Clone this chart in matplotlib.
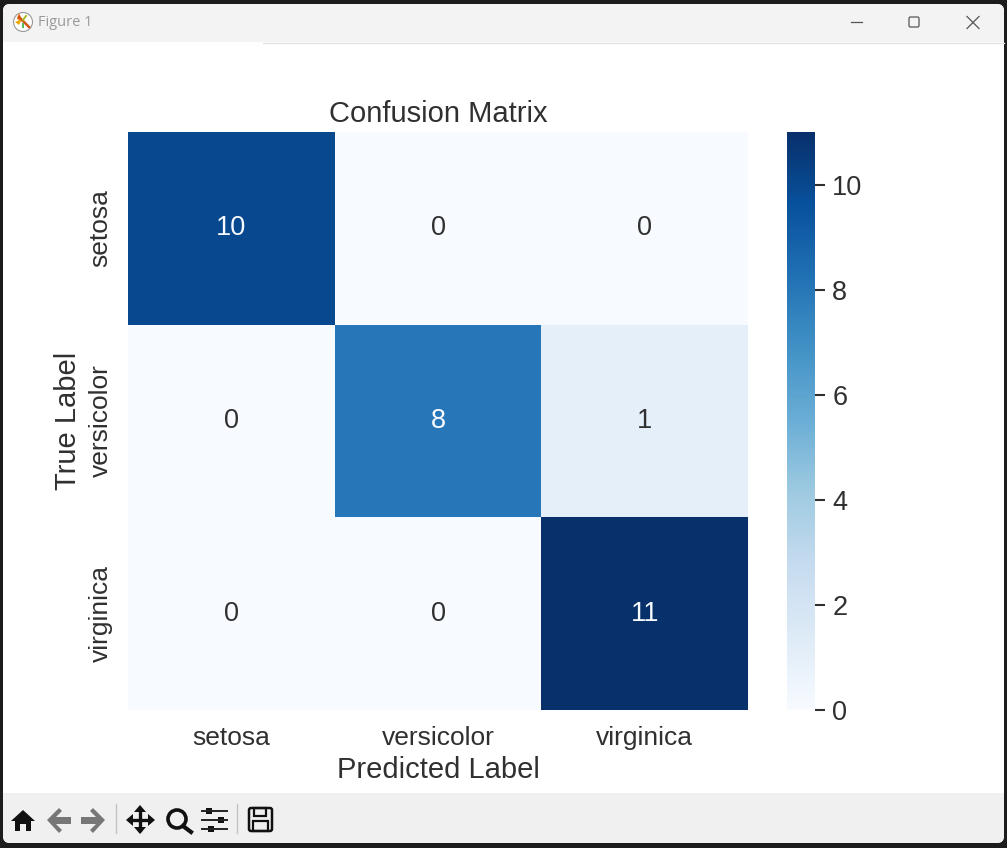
import numpy as np
import matplotlib
matplotlib.use("Agg")
import matplotlib.pyplot as plt
from matplotlib.patches import FancyBboxPatch, Rectangle, Circle, Polygon

plt.rcParams['font.family'] = ['Liberation Sans', 'DejaVu Sans']

classes = ['setosa', 'versicolor', 'virginica']
matrix = np.array([[10, 0, 0],
                   [0, 8, 1],
                   [0, 0, 11]])
cbar_ticks = [0, 2, 4, 6, 8, 10]

W, H = 1007, 848
TEXT = '#303030'
fig = plt.figure(figsize=(W / 100, H / 100), dpi=100, facecolor='#1c1c1c')


def px_axes(x0, y0, x1, y1):
    return fig.add_axes([x0 / W, 1 - y1 / H, (x1 - x0) / W, (y1 - y0) / H])


# window chrome drawn in pixel coordinates
bg = fig.add_axes([0, 0, 1, 1], zorder=0)
bg.set_xlim(0, W)
bg.set_ylim(H, 0)
bg.axis('off')
bg.add_patch(FancyBboxPatch((3, 4), W - 6, 839, boxstyle='round,pad=0,rounding_size=7',
                            fc='white', ec='none'))
bg.add_patch(FancyBboxPatch((3, 4), W - 6, 38, boxstyle='round,pad=0,rounding_size=7',
                            fc='#f3f3f3', ec='none'))
bg.add_patch(Rectangle((3, 30), W - 6, 12, fc='#f3f3f3', ec='none'))
bg.add_patch(FancyBboxPatch((3, 793), W - 6, 50, boxstyle='round,pad=0,rounding_size=7',
                            fc='#f0f0f0', ec='none'))
bg.add_patch(Rectangle((3, 793), W - 6, 20, fc='#f0f0f0', ec='none'))
bg.plot([263, W - 3], [42.5, 42.5], color='#e2e2e2', lw=1)

# title bar
bg.add_patch(Circle((23, 22), 9.5, fc='white', ec='#999999', lw=0.8))
bg.plot([19, 29], [17, 27], color='#d2561a', lw=1.8)
bg.add_patch(Polygon([[19, 13], [23, 22], [17, 19]], fc='#f07010', ec='none'))
bg.add_patch(Polygon([[15, 22], [22, 19], [19, 25]], fc='#eaa800', ec='none'))
bg.plot([23, 26], [20, 16], color='#a8b820', lw=1.4)
bg.plot([23, 23], [24, 27], color='#50c050', lw=1.4)
bg.text(38, 23, 'Figure 1', fontsize=10.5, color='#9a9a9a', va='center', family='Open Sans')
bg.plot([851, 862], [22, 22], color='#555555', lw=0.9)
bg.add_patch(FancyBboxPatch((909, 17), 10, 10, boxstyle='round,pad=0,rounding_size=1.5',
                            fc='none', ec='#555555', lw=0.9))
bg.plot([967, 979], [16.5, 28.5], color='#555555', lw=0.9)
bg.plot([967, 979], [28.5, 16.5], color='#555555', lw=0.9)

# toolbar icons
bg.add_patch(Polygon([[11, 821], [23, 810], [35, 821], [31, 821], [31, 831], [26, 831], [26, 824],
                      [20, 824], [20, 831], [15, 831], [15, 821]], fc='#111111', ec='none'))
bg.add_patch(Polygon([[47, 820], [59, 808], [62, 811], [56, 817], [71, 817], [71, 824],
                      [56, 824], [62, 830], [59, 833]], fc='#777777', ec='none'))
bg.add_patch(Polygon([[105, 820], [93, 808], [90, 811], [96, 817], [81, 817], [81, 824],
                      [96, 824], [90, 830], [93, 833]], fc='#777777', ec='none'))
bg.plot([116, 116], [804, 833], color='#c4c4c4', lw=1)
bg.plot([130, 150], [820, 820], color='#111111', lw=2.4)
bg.plot([140, 140], [810, 830], color='#111111', lw=2.4)
bg.add_patch(Polygon([[126, 820], [133, 814], [133, 826]], fc='#111111', ec='none'))
bg.add_patch(Polygon([[155, 820], [148, 814], [148, 826]], fc='#111111', ec='none'))
bg.add_patch(Polygon([[140, 805], [134, 812], [146, 812]], fc='#111111', ec='none'))
bg.add_patch(Polygon([[140, 834], [134, 827], [146, 827]], fc='#111111', ec='none'))
bg.add_patch(Circle((177, 819), 9, fc='none', ec='#111111', lw=2.6))
bg.plot([183, 191], [826, 832], color='#111111', lw=3)
for y, x in zip([811, 820, 829], [209, 221, 211]):
    bg.plot([202, 227], [y, y], color='#222222', lw=1.4)
    bg.add_patch(Rectangle((x - 3, y - 3), 6, 6, fc='#111111', ec='none'))
bg.plot([237, 237], [804, 833], color='#c4c4c4', lw=1)
bg.add_patch(FancyBboxPatch((249, 808), 23, 23, boxstyle='round,pad=0,rounding_size=2',
                            fc='none', ec='#111111', lw=1.8))
bg.add_patch(Rectangle((254, 808), 12, 8, fc='none', ec='#111111', lw=1.6))
bg.add_patch(Rectangle((253, 821), 15, 10, fc='none', ec='#111111', lw=1.6))

# heatmap
ax = px_axes(128, 132, 748, 710)
mesh = ax.pcolormesh(matrix, cmap='Blues', vmin=0, vmax=11)
ax.invert_yaxis()
ax.set_xticks(np.arange(len(classes)) + 0.5, classes)
ax.set_yticks(np.arange(len(classes)) + 0.5, classes, rotation=90, va='center')
ax.tick_params(axis='x', length=0, labelsize=19, labelcolor=TEXT, pad=11.5)
ax.tick_params(axis='y', length=0, labelsize=19, labelcolor=TEXT, pad=11)
for spine in ax.spines.values():
    spine.set_visible(False)
for i in range(matrix.shape[0]):
    for j in range(matrix.shape[1]):
        val = matrix[i, j]
        ax.text(j + 0.5, i + 0.5, str(val), ha='center', va='center', fontsize=19.5,
                color='#f7fbff' if val >= 6 else TEXT)
ax.set_title('Confusion Matrix', fontsize=21, color=TEXT, pad=7)
ax.set_xlabel('Predicted Label', fontsize=21, color=TEXT, labelpad=4.5)
ax.set_ylabel('True Label', fontsize=21, color=TEXT, labelpad=5)

# colorbar
cax = px_axes(787, 132, 815, 710)
cbar = fig.colorbar(mesh, cax=cax, ticks=cbar_ticks)
cbar.outline.set_visible(False)
cax.tick_params(length=7.5, width=1.5, color=TEXT, labelsize=19.5, labelcolor=TEXT, pad=5)

fig.savefig('out.png', dpi=100, facecolor=fig.get_facecolor())
